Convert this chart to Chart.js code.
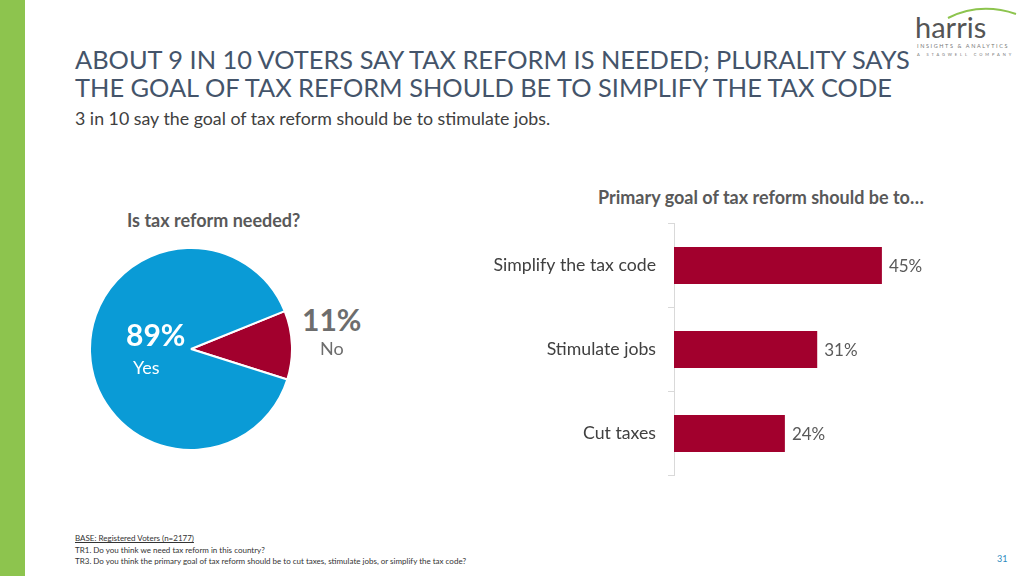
<!DOCTYPE html>
<html>
<head>
<meta charset="utf-8">
<script src="https://cdn.jsdelivr.net/npm/chart.js@4.4.0/dist/chart.umd.min.js"></script>
<style>
    body { margin:0; width:1024px; height:576px; position:relative; overflow:hidden; background:#fff; font-family:Lato, "Open Sans", sans-serif; }
    .abs { position:absolute; white-space:nowrap; }
    .greenbar { left:0; top:0; width:25px; height:576px; background:#8dc44e; }
    .title { left:75px; top:45px; font-size:25.4px; line-height:28px; color:#44546a; }
    .subtitle { left:75px; top:107px; font-size:17.8px; color:#404040; }
    .qtitle { font-size:18px; font-weight:bold; color:#595959; }
    .foot { left:75px; font-size:8px; color:#333; }
    #pieWrap { left:89px; top:247px; width:204px; height:204px; }
    #barWrap { left:450px; top:201px; width:510px; height:297px; }
</style>
</head>
<body>
<div class="abs greenbar"></div>

<div class="abs title">ABOUT 9 IN 10 VOTERS SAY TAX REFORM IS NEEDED; PLURALITY SAYS<br>THE GOAL OF TAX REFORM SHOULD BE TO SIMPLIFY THE TAX CODE</div>
<div class="abs subtitle">3 in 10 say the goal of tax reform should be to stimulate jobs.</div>

<!-- logo -->
<svg class="abs" style="left:900px;top:0" width="124" height="62">
    <path d="M48 18 Q 80 2 116 14" stroke="#8dc44e" stroke-width="2" fill="none"/>
    <text x="15" y="38" font-family="Lato" font-size="29" fill="#555">harris</text>
    <text x="17" y="48" font-family="Lato" font-size="5.5" letter-spacing="1.6" fill="#777">INSIGHTS &amp; ANALYTICS</text>
    <text x="17" y="56" font-family="Lato" font-size="4" letter-spacing="2.9" fill="#777">A STAGWELL COMPANY</text>
</svg>

<div class="abs qtitle" style="left:127px;top:209px">Is tax reform needed?</div>
<div class="abs qtitle" style="left:598px;top:186px">Primary goal of tax reform should be to…</div>

<div class="abs" id="pieWrap"><canvas id="pieChart" width="204" height="204"></canvas></div>
<div class="abs" id="yesPct" style="left:126px;top:316px;font-size:30px;font-weight:bold;color:#fff"></div>
<div class="abs" id="yesLbl" style="left:133px;top:356px;font-size:18px;color:#fff"></div>
<div class="abs" id="noPct" style="left:302px;top:301px;font-size:30px;font-weight:bold;color:#6d6d6d"></div>
<div class="abs" id="noLbl" style="left:320px;top:337px;font-size:18px;color:#6d6d6d"></div>

<div class="abs" id="barWrap"><canvas id="barChart" width="510" height="297"></canvas></div>

<div class="abs foot" style="top:533px;text-decoration:underline">BASE: Registered Voters (n=2177)</div>
<div class="abs foot" style="top:545px">TR1. Do you think we need tax reform in this country?</div>
<div class="abs foot" style="top:556px">TR3. Do you think the primary goal of tax reform should be to cut taxes, stimulate jobs, or simplify the tax code?</div>
<div class="abs" style="left:997px;top:553px;font-size:9px;color:#2e8bc0">31</div>

<script>
/* ===== DATA ===== */
const pieLabels = ["No", "Yes"];
const pieValues = [11, 89];
const pieColors = ["#a2002d", "#0a9bd6"];

const goalLabels = ["Simplify the tax code", "Stimulate jobs", "Cut taxes"];
const goalValues = [45, 31, 24];

/* ===== PIE ===== */
document.getElementById("yesPct").textContent = pieValues[1] + "%";
document.getElementById("yesLbl").textContent = pieLabels[1];
document.getElementById("noPct").textContent = pieValues[0] + "%";
document.getElementById("noLbl").textContent = pieLabels[0];

new Chart(document.getElementById("pieChart"), {
    type: "pie",
    data: {
        labels: pieLabels,
        datasets: [{
            data: pieValues,
            backgroundColor: pieColors,
            borderColor: "#fff",
            borderWidth: 2
        }]
    },
    options: {
        responsive: false,
        animation: false,
        rotation: 68,
        plugins: {legend: {display:false}, tooltip: {enabled:false}}
    }
});

/* ===== BARS ===== */
const barValueLabels = {
    id: "barValueLabels",
    afterDatasetsDraw(chart) {
        const ctx = chart.ctx;
        const meta = chart.getDatasetMeta(0);
        ctx.save();
        ctx.font = "17px Lato";
        ctx.fillStyle = "#595959";
        ctx.textAlign = "left";
        ctx.textBaseline = "middle";
        meta.data.forEach((bar, i) => {
            ctx.fillText(goalValues[i] + "%", bar.x + 7, bar.y + 1);
        });
        ctx.restore();
    }
};

new Chart(document.getElementById("barChart"), {
    type: "bar",
    data: {
        labels: goalLabels,
        datasets: [{
            data: goalValues,
            backgroundColor: "#a2002d",
            barPercentage: 0.44,
            categoryPercentage: 1
        }]
    },
    options: {
        responsive: false,
        animation: false,
        indexAxis: "y",
        layout: {padding: {top: 0, bottom: 0, right: 55, left: 0}},
        scales: {
            x: {display: false, min: 0, max: 50},
            y: {
                afterFit: (scale) => { scale.width = 224; },
                border: {color: "#d9d9d9"},
                grid: {drawOnChartArea: false, color: "#d9d9d9", tickLength: 6},
                ticks: {color: "#404040", font: {family: "Lato", size: 17.7}, padding: 12}
            }
        },
        plugins: {legend: {display:false}, tooltip: {enabled:false}}
    },
    plugins: [barValueLabels]
});
</script>
</body>
</html>
